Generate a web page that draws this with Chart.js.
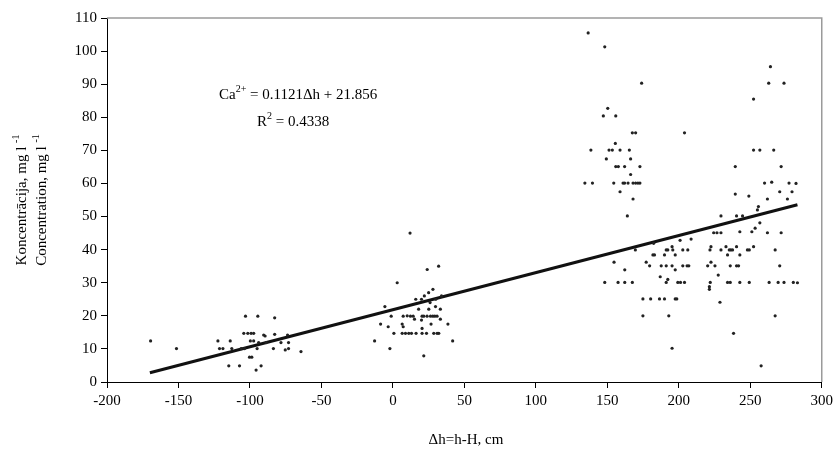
<!DOCTYPE html>
<html>
<head>
<meta charset="utf-8">
<script src="https://cdn.jsdelivr.net/npm/chart.js@4"></script>
<style>
  html, body { margin: 0; padding: 0; background: #fff; }
  #wrap { width: 837px; height: 454px; }
</style>
</head>
<body>
<div id="wrap"><canvas id="ca"></canvas></div>
<script>
// measured points: dh (cm) and Ca2+ concentration (mg/l)
const dhValues = [
  // cluster around -100
  -169.5, -151.4, -122.4, -113.8, -121.3, -118.9, -112.7, -106.1, -103.8, -95,
  -114.8, -107.3, -103.1, -94.5, -82.7, -104.3, -101.5, -99.2, -97.4, -99.7,
  -97.4, -100.3, -98.7, -95.7, -92.2, -89.4, -90.4, -82.7, -88.7, -83.6,
  -78.3, -73.7, -73, -75.3, -73, -64.3, -93.9,
  // cluster around 0..40
  -12.8, -8.6, -3.3, -2.1, -5.6, -1.2, 7.2, 12.3, 14.2, 20.4, 21.6, 23.9, 26.3, 27.9,
  29.3, 30.9, 6.5, 7.2, 15.1, 26.7, 33.2, 38.5, 0.7, 6.5, 8.8, 11.1, 13, 16.2,
  20.4, 23.5, 28.6, 30.9, 32.1, 21.6, 20.4, 20, 25.1, 29.8, 33.2, 41.8,
  12, 3, 24, 25, 30, 32, 28, 20, 16, 10, 18, 22, 26, 34,
  // cluster around 135..205
  136.6, 148.2, 174, 150.3, 147.2, 155.9, 167.5, 169.8, 204, 155.6,
  138.5, 151.2, 153.5, 158.9, 165.4, 149.3, 166.3, 155.9, 157.7, 162.1, 172.8,
  166.3, 134.3, 139.6, 154.5, 161, 162.1, 164.5, 168, 169.8, 171.4, 172.8,
  158.9, 168, 164, 169.6, 182.4, 200.9, 208.6, 191.2, 192.3, 195.3, 195.8,
  202.8, 206.3, 181.9, 183, 190, 197.5, 177.2, 179.6, 154.7, 162.2, 187.7,
  191.2, 195.3, 197.5, 202.8, 205.8, 207, 187, 192.3, 191.2, 148.2, 157.5,
  162.2, 167.5, 199.3, 201.2, 204, 174.9, 180.3, 186.5, 190, 197.5, 198.6,
  174.9, 193, 195.3,
  // cluster around 220..285
  264.1, 262.9, 273.6, 252.3, 252.3, 256.7, 266.4, 239.5, 271.6, 260, 265,
  277.1, 239.5, 249, 270.6, 279.2, 262, 276, 255, 255.7, 229.5, 240.4, 244.6,
  256.7, 253.4, 251.1, 242.7, 262, 271.6, 224.4, 226.7, 229.5, 222.5, 221.8,
  233, 229.5, 235.3, 236.4, 237.6, 240.4, 248, 249.3, 252.3, 267.4, 234.1,
  242.7, 220.2, 222.5, 225.3, 236, 240.4, 241.8, 270.6, 227.6, 222, 234.1,
  236, 242.7, 249.3, 263.2, 269.5, 273.6, 280.1, 221.4, 221.4, 228.8, 267.4,
  238.3, 257.6, 282, 283
];
const caValues = [
  12.4, 10.1, 12.4, 12.4, 10.1, 10.1, 10.1, 10.1, 10.1, 10.1,
  4.9, 4.9, 19.9, 19.9, 19.4, 14.7, 14.7, 14.7, 14.7, 12.4,
  12.4, 7.5, 7.5, 3.6, 4.9, 13.9, 14.2, 14.4, 11.9, 10.1,
  11.9, 14.2, 11.9, 9.7, 10.1, 9.2, 11.9,
  12.4, 17.5, 16.7, 10.1, 22.8, 19.9, 19.9, 19.9, 19.9, 19.9, 19.9, 19.9, 19.9, 19.9,
  19.9, 19.9, 17.5, 16.7, 19, 17.5, 19, 17.5, 14.7, 14.7, 14.7, 14.7, 14.7, 14.7,
  14.7, 14.7, 14.7, 14.7, 14.7, 7.9, 16.2, 18.7, 22, 22.8, 22, 12.4,
  45, 30, 34, 27, 25, 35, 28, 25, 25, 20, 22, 26, 24, 26,
  105.5, 101.3, 90.3, 82.7, 80.4, 80.4, 75.3, 75.3, 75.3, 72.1,
  70.1, 70.1, 70.1, 70.1, 70.1, 67.4, 67.4, 65.1, 65.1, 65.1, 65.1,
  62.7, 60.1, 60.1, 60.1, 60.1, 60.1, 60.1, 60.1, 60.1, 60.1, 60.1,
  57.5, 55.3, 50.2, 39.9, 41.9, 42.8, 43.2, 39.9, 39.9, 40.9, 39.9,
  39.9, 39.9, 38.4, 38.4, 38.4, 38.4, 36.2, 35.1, 36.2, 33.9, 35.1,
  35.1, 35.1, 33.9, 35.1, 35.1, 35.1, 31.8, 31, 30.1, 30.1, 30.1,
  30.1, 30.1, 30.1, 30.1, 30.1, 25.1, 25.1, 25.1, 25.1, 25.1, 25.1,
  20, 20, 10.2,
  95.3, 90.3, 90.3, 85.5, 70.1, 70.1, 70.1, 65.1, 65.1, 60.1, 60.4,
  60.1, 56.8, 56.2, 57.5, 57.5, 55.3, 55.3, 52, 53, 50.2, 50.2, 50.2,
  48.1, 46.5, 45.4, 45.4, 45.1, 45.1, 45.1, 45.1, 45.1, 40.9, 39.9,
  40.9, 39.9, 39.9, 39.9, 39.9, 40.9, 39.9, 39.9, 40.9, 39.9, 38.4,
  38.4, 35.1, 36.2, 35.1, 35.1, 35.1, 35.1, 35.1, 32.3, 30.1, 30.1,
  30.1, 30.1, 30.1, 30.1, 30.1, 30.1, 30.1, 28.8, 28, 24.1, 20,
  14.7, 4.9, 60, 30
];
// regression line end points
const trendX = [-170, 283];
const trendY = [2.80, 53.58];
const xTicks = [-200, -150, -100, -50, 0, 50, 100, 150, 200, 250, 300];
const yTicks = [0, 10, 20, 30, 40, 50, 60, 70, 80, 90, 100, 110];

const FONT = "'Liberation Serif', 'Times New Roman', serif";

const scatterPts = dhValues.map(function(x, i){ return { x: x, y: caValues[i] }; });
const trendPts = trendX.map(function(x, i){ return { x: x, y: trendY[i] }; });

// grey frame on top and right of the plot area
const framePlugin = {
    id: "frame",
    beforeDatasetsDraw: function(chart){
        const a = chart.chartArea;
        const ctx = chart.ctx;
        ctx.save();
        ctx.strokeStyle = "#9a9a9a";
        ctx.lineWidth = 1.5;
        ctx.beginPath();
        ctx.moveTo(a.left, a.top);
        ctx.lineTo(a.right, a.top);
        ctx.lineTo(a.right, a.bottom);
        ctx.stroke();
        ctx.restore();
    }
};

// axis titles and equation with superscripts
const textPlugin = {
    id: "texts",
    afterDraw: function(chart){
        const ctx = chart.ctx;
        ctx.save();
        ctx.fillStyle = "#000";
        ctx.textBaseline = "alphabetic";

        function sup(parts, x, y){
            let cx = x;
            parts.forEach(function(p){
                ctx.font = (p[1] ? "10px " : "15px ") + FONT;
                ctx.fillText(p[0], cx, p[1] ? y - 7 : y);
                cx += ctx.measureText(p[0]).width;
            });
        }

        sup([["Ca", 0], ["2+", 1], [" = 0.1121\u0394h + 21.856", 0]], 219, 99);
        sup([["R", 0], ["2", 1], [" = 0.4338", 0]], 257, 126);

        // x title
        ctx.font = "15px " + FONT;
        ctx.textAlign = "center";
        ctx.fillText("\u0394h=h-H, cm", 466, 444);

        // y title, rotated
        ctx.rotate(-Math.PI / 2);
        ctx.textAlign = "left";
        function ytitle(parts, yc, xpos){
            let w = 0;
            parts.forEach(function(p){
                ctx.font = (p[1] ? "10px " : "15px ") + FONT;
                w += ctx.measureText(p[0]).width;
            });
            sup(parts, -yc - w / 2, xpos);
        }
        ytitle([["Koncentr\u0101cija, mg l ", 0], ["-1", 1]], 200, 26);
        ytitle([["Concentration, mg l ", 0], ["-1", 1]], 200, 46);
        ctx.restore();
    }
};

new Chart(document.getElementById("ca"), {
    type: "scatter",
    data: {
        datasets: [
            {
                data: scatterPts,
                backgroundColor: "#222",
                borderWidth: 0,
                pointRadius: 1.6
            },
            {
                type: "line",
                data: trendPts,
                borderColor: "#111",
                borderWidth: 3,
                pointRadius: 0,
                fill: false
            }
        ]
    },
    options: {
        responsive: true,
        maintainAspectRatio: false,
        animation: false,
        layout: { padding: { top: 18, right: 12, left: 0, bottom: 0 } },
        plugins: {
            legend: { display: false },
            tooltip: { enabled: false }
        },
        scales: {
            x: {
                type: "linear",
                min: -200,
                max: 300,
                afterBuildTicks: function(s){ s.ticks = xTicks.map(function(v){ return { value: v }; }); },
                afterFit: function(s){ s.height = 72; },
                grid: { drawOnChartArea: false, color: "#000", tickLength: 6 },
                border: { color: "#000", width: 1 },
                ticks: { color: "#000", font: { family: FONT, size: 15 }, padding: 4, maxRotation: 0 }
            },
            y: {
                min: 0,
                max: 110,
                afterBuildTicks: function(s){ s.ticks = yTicks.map(function(v){ return { value: v }; }); },
                afterFit: function(s){ s.width = 107; },
                grid: { drawOnChartArea: false, color: "#000", tickLength: 6 },
                border: { color: "#000", width: 1 },
                ticks: { color: "#000", font: { family: FONT, size: 15 }, padding: 4 }
            }
        }
    },
    plugins: [framePlugin, textPlugin]
});
</script>
</body>
</html>
